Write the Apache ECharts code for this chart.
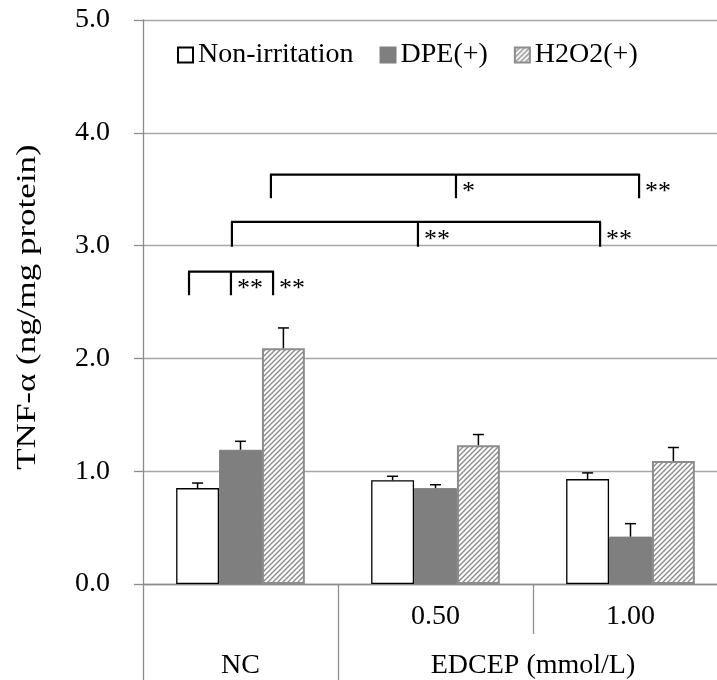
<!DOCTYPE html>
<html><head><meta charset="utf-8">
<script src="https://cdn.jsdelivr.net/npm/echarts@6/dist/echarts.min.js"></script>
<style>html,body{margin:0;padding:0;background:#fff}#c{width:717px;height:680px}</style>
</head><body><div id="c"></div>
<script>
const categories = ['NC', '0.50', '1.00'];
const subTickLabels = ['', '0.50', '1.00'];
const groupNames = ['NC', 'EDCEP (mmol/L)'];
const groupSpans = [1, 2];
const seriesNames = ['Non-irritation', 'DPE(+)', 'H2O2(+)'];
const yTitle = 'TNF-α (ng/mg protein)';
const nonIrritation = [0.85, 0.92, 0.93];
const nonIrritationErr = [0.045, 0.035, 0.055];
const dpe = [1.19, 0.85, 0.42];
const dpeErr = [0.075, 0.03, 0.115];
const h2o2 = [2.09, 1.23, 1.09];
const h2o2Err = [0.18, 0.095, 0.12];
// significance brackets: x in category units, y in data units
const bracketX = [[-0.264, -0.049, 0.167], [-0.044, 0.910, 1.844], [0.156, 1.105, 2.044]];
const bracketTop = [2.77, 3.21, 3.63];
const bracketBottom = [2.56, 2.99, 3.42];
const bracketMarks = [['**', '**'], ['**', '**'], ['*', '**']];

const FONT = 'Liberation Serif';
const FS = 28;
const AX = '#8c8c8c';
const BAR_FRAC = 0.22;

function hatch() {
  const s = 5;
  const c = document.createElement('canvas');
  c.width = s; c.height = s;
  const g = c.getContext('2d');
  g.fillStyle = '#fff'; g.fillRect(0, 0, s, s);
  g.strokeStyle = '#8a8a8a'; g.lineWidth = 1.4;
  g.beginPath();
  g.moveTo(-1, s + 1); g.lineTo(s + 1, -1);
  g.moveTo(-1, 1); g.lineTo(1, -1);
  g.moveTo(s - 1, s + 1); g.lineTo(s + 1, s - 1);
  g.stroke();
  return c;
}
const pattern = { image: hatch(), repeat: 'repeat' };

// group label positions on a 0..N value axis
const groupCenters = [];
const groupEdges = [0];
let acc = 0;
groupSpans.forEach(s => { groupCenters.push(acc + s / 2); acc += s; groupEdges.push(acc); });

function errSeries(idx, vals, errs) {
  return {
    type: 'custom', silent: true, z: 5,
    data: vals.map((v, i) => [i, v, v + errs[i]]),
    renderItem(params, api) {
      const i = api.value(0);
      const p0 = api.coord([i, api.value(1)]);
      const p1 = api.coord([i, api.value(2)]);
      const band = api.size([1, 0])[0];
      const bw = band * BAR_FRAC;
      const x = p0[0] + (idx - 1) * bw;
      const cap = 5.5;
      return { type: 'group', children: [
        { type: 'line', shape: { x1: x, y1: p0[1], x2: x, y2: p1[1] }, style: { stroke: '#000', lineWidth: 1.5 } },
        { type: 'line', shape: { x1: x - cap, y1: p1[1], x2: x + cap, y2: p1[1] }, style: { stroke: '#000', lineWidth: 1.5 } }
      ] };
    }
  };
}

const bracketSeries = {
  type: 'custom', silent: true, z: 6,
  data: bracketTop.map((t) => [0, t]),
  renderItem(params, api) {
    const k = params.dataIndex;
    const c0 = api.coord([0, 0])[0];
    const band = api.size([1, 0])[0];
    const xs = bracketX[k].map(p => c0 + p * band);
    const yT = api.coord([0, bracketTop[k]])[1];
    const yB = api.coord([0, bracketBottom[k]])[1];
    const st = { stroke: '#000', lineWidth: 2.2 };
    const ch = [{ type: 'line', shape: { x1: xs[0] - 1, y1: yT, x2: xs[2] + 1, y2: yT }, style: st }];
    xs.forEach(x => ch.push({ type: 'line', shape: { x1: x, y1: yT, x2: x, y2: yB }, style: st }));
    [1, 2].forEach((j, m) => ch.push({
      type: 'text',
      style: { text: bracketMarks[k][m], x: xs[j] + 6, y: yT + 18, fill: '#000',
        font: '26px "' + FONT + '"', align: 'left', verticalAlign: 'middle' }
    }));
    return { type: 'group', children: ch };
  }
};

const chart = echarts.init(document.getElementById('c'), null, { renderer: 'canvas' });
chart.setOption({
  animation: false,
  backgroundColor: '#fff',
  textStyle: { fontFamily: FONT },
  grid: { left: 143, top: 20, width: 585, height: 564, containLabel: false, outerBoundsMode: 'none' },
  legend: {
    left: 172, top: 36, itemGap: 26, itemWidth: 15, itemHeight: 15,
    data: seriesNames.map(n => ({ name: n, icon: 'rect' })),
    textStyle: { fontFamily: FONT, fontSize: FS, color: '#000' }
  },
  graphic: [{
    type: 'text', x: 28, y: 307, rotation: Math.PI / 2, scaleX: 1.25, silent: true,
    style: { text: yTitle, font: FS + 'px "' + FONT + '"', fill: '#000', align: 'center', verticalAlign: 'middle' }
  }],
  xAxis: [{
    type: 'category', data: subTickLabels, position: 'bottom',
    axisLine: { show: true, lineStyle: { color: AX, width: 1.3 } },
    axisTick: { show: true, length: 50, interval: 0, lineStyle: { color: AX, width: 1.3 } },
    axisLabel: { interval: 0, margin: 19, fontFamily: FONT, fontSize: FS, color: '#000' },
    splitLine: { show: false }
  }, {
    type: 'value', min: 0, max: categories.length, position: 'bottom', offset: 50,
    axisLine: { show: false },
    axisTick: { show: true, length: 46, customValues: groupEdges, lineStyle: { color: AX, width: 1.3 } },
    axisLabel: { show: true, margin: 18, customValues: groupCenters, fontFamily: FONT, fontSize: FS, color: '#000',
      formatter: v => { const i = groupCenters.indexOf(v); return i >= 0 ? groupNames[i] : ''; } },
    splitLine: { show: false }
  }],
  yAxis: {
    type: 'value', min: 0, max: 5, interval: 1,
    axisLine: { show: true, lineStyle: { color: AX, width: 1.3 } },
    axisTick: { show: true, length: 9, lineStyle: { color: AX, width: 1.3 } },
    axisLabel: { margin: 33, fontFamily: FONT, fontSize: FS, color: '#000', formatter: v => v.toFixed(1) },
    splitLine: { show: true, lineStyle: { color: '#a6a6a6', width: 1.3 } }
  },
  series: [
    { name: seriesNames[0], type: 'bar', data: nonIrritation, barWidth: (BAR_FRAC * 100) + '%', barGap: '0%',
      itemStyle: { color: '#fff', borderColor: '#000', borderWidth: 1.3 } },
    { name: seriesNames[1], type: 'bar', data: dpe, barWidth: (BAR_FRAC * 100) + '%', barGap: '0%',
      itemStyle: { color: '#7f7f7f', borderColor: '#7f7f7f', borderWidth: 1 } },
    { name: seriesNames[2], type: 'bar', data: h2o2, barWidth: (BAR_FRAC * 100) + '%', barGap: '0%',
      itemStyle: { color: pattern, borderColor: '#8c8c8c', borderWidth: 2 } },
    errSeries(0, nonIrritation, nonIrritationErr),
    errSeries(1, dpe, dpeErr),
    errSeries(2, h2o2, h2o2Err),
    bracketSeries
  ]
});
</script></body></html>
